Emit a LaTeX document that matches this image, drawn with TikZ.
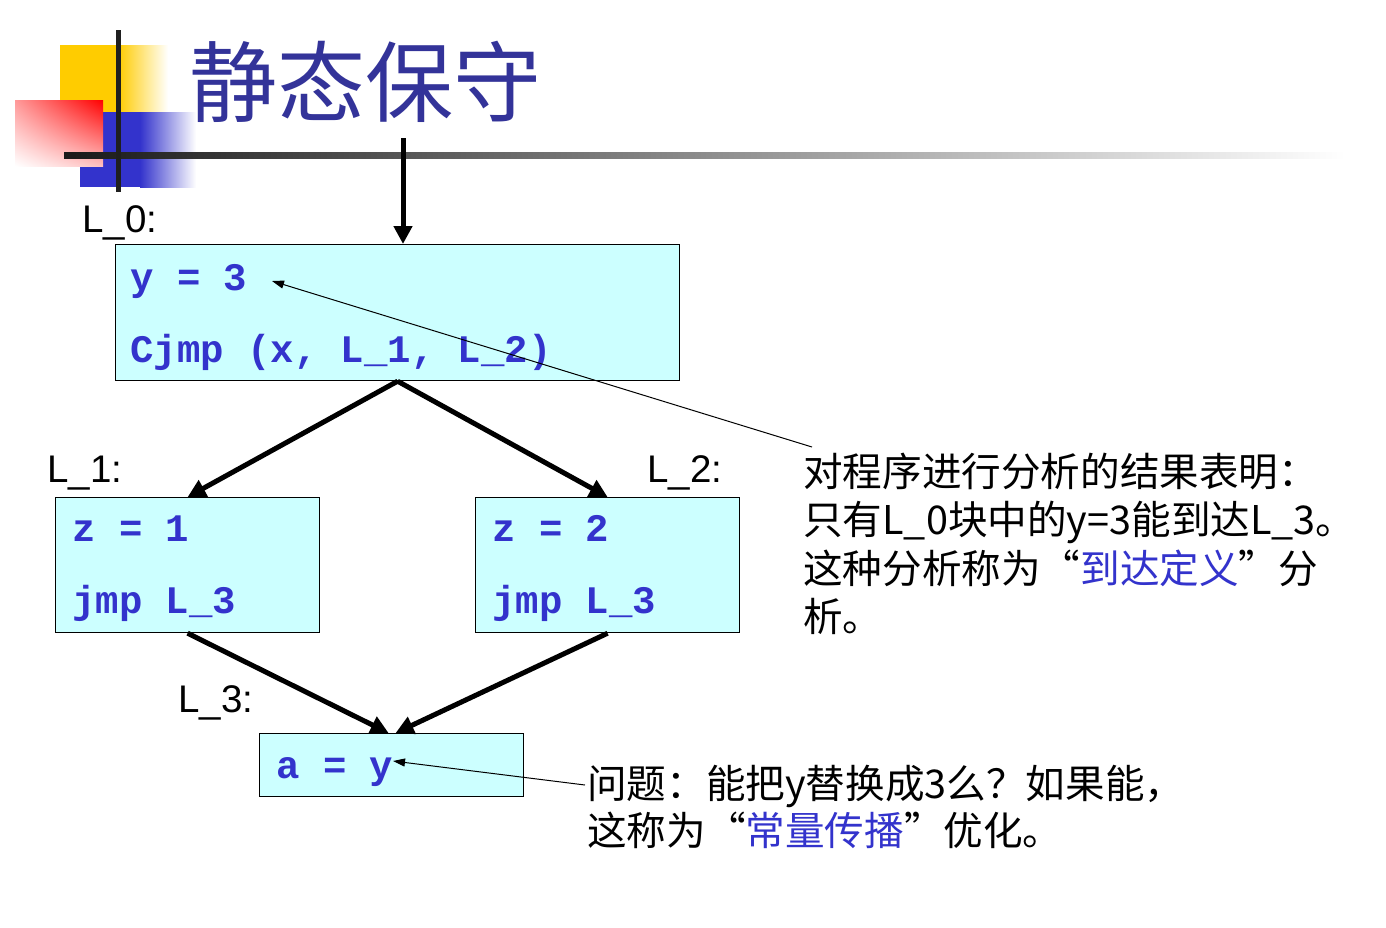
\documentclass[tikz,border=0pt]{standalone}
\usepackage{fontspec}
\setmainfont{Liberation Sans}
\newfontfamily\cjk{Noto Sans CJK SC}
\newfontfamily\codefont{Liberation Mono}
\usetikzlibrary{arrows.meta,shadings}
\definecolor{boxfill}{HTML}{CCFFFF}
\definecolor{codeblue}{HTML}{3333CC}
\definecolor{titleblue}{HTML}{333399}
\definecolor{decoyellow}{HTML}{FFCC00}
\definecolor{decoblue}{HTML}{3333CC}
\begin{document}
\begin{tikzpicture}[x=1pt,y=-1pt,
  block/.style={draw=black, line width=1.2pt, fill=boxfill, rectangle, inner sep=0pt, anchor=north west},
  code/.style={font=\codefont\bfseries\fontsize{39}{39}\selectfont, text=codeblue, anchor=base west, inner sep=0pt},
  lbl/.style={font=\fontsize{38.5}{38.5}\selectfont, anchor=base west, inner sep=0pt},
  note/.style={font=\cjk\fontsize{39.6}{39.6}\selectfont, anchor=base west, inner sep=0pt},
  flow/.style={line width=5pt, -{Triangle[length=18pt,width=18pt]}},
  pointer/.style={line width=1pt, -{Triangle[length=12pt,width=8pt]}}
]
\useasboundingbox[fill=white] (0,0) rectangle (1386,927);

% decoration
\fill[decoyellow] (60,45) rectangle (118,112);
\shade[left color=decoyellow, right color=white] (118,45) rectangle (168,112);
\fill[decoblue] (80,112) rectangle (140,187);
\shade[left color=decoblue, right color=white] (140,112) rectangle (196,187);
\shade[upper left=red!40, upper right=red, lower left=white, lower right=red!25] (15,100) rectangle (103,166);
\shade[left color=black!90, right color=white] (64,152) rectangle (1345,158);
\fill[black!88] (116,30) rectangle (121,192);

\node[font=\cjk\fontsize{88}{88}\selectfont, text=titleblue, anchor=base west, inner sep=0pt] (title) at (189,115) {静态保守};

% blocks
\node[block, minimum width=564pt, minimum height=136pt] (b0) at (115,244) {};
\node[block, minimum width=264pt, minimum height=135pt] (b1) at (55,497) {};
\node[block, minimum width=264pt, minimum height=135pt] (b2) at (475,497) {};
\node[block, minimum width=264pt, minimum height=63pt] (b3) at (259,733) {};

\node[code] (c0a) at (130,290) {y = 3};
\node[code] (c0b) at (130,362) {Cjmp (x, L\_1, L\_2)};
\node[code] (c1a) at (72,541) {z = 1};
\node[code] (c1b) at (72,613) {jmp L\_3};
\node[code] (c2a) at (492,541) {z = 2};
\node[code] (c2b) at (492,613) {jmp L\_3};
\node[code] (c3) at (276,778) {a = y};

\node[lbl] (l0) at (82,232) {L\_0:};
\node[lbl] (l1) at (47,482) {L\_1:};
\node[lbl] (l2) at (647,482) {L\_2:};
\node[lbl] (l3) at (178,712) {L\_3:};

% flow arrows
\coordinate (start) at (403,138);
\draw[flow] (start) -- (start |- b0.north);
\draw[flow] (b0.south) -- (b1.north);
\draw[flow] (b0.south) -- (b2.north);
\draw[flow] (b1.south) -- ([xshift=-3pt]b3.north);
\draw[flow] (b2.south) -- ([xshift=4pt]b3.north);

% notes
\node[note] (n1) at (803,486) {对程序进行分析的结果表明：};
\node[note] (n2) at (803,534) {只有L\_0块中的y=3能到达L\_3。};
\node[note] (n3) at (803,583) {这种分析称为“\textcolor{codeblue}{到达定义}”分};
\node[note] (n4) at (803,631) {析。};
\node[note] (q1) at (587,798) {问题：能把y替换成3么？如果能，};
\node[note] (q2) at (587,845) {这称为“\textcolor{codeblue}{常量传播}”优化。};

% pointers
\coordinate (p0) at (812,447);
\coordinate (y0) at (272,281);
\coordinate (p1) at (585,785);
\coordinate (y1) at (393,761);
\draw[pointer] (p0) -- (y0);
\draw[pointer] (p1) -- (y1);
\end{tikzpicture}
\end{document}
